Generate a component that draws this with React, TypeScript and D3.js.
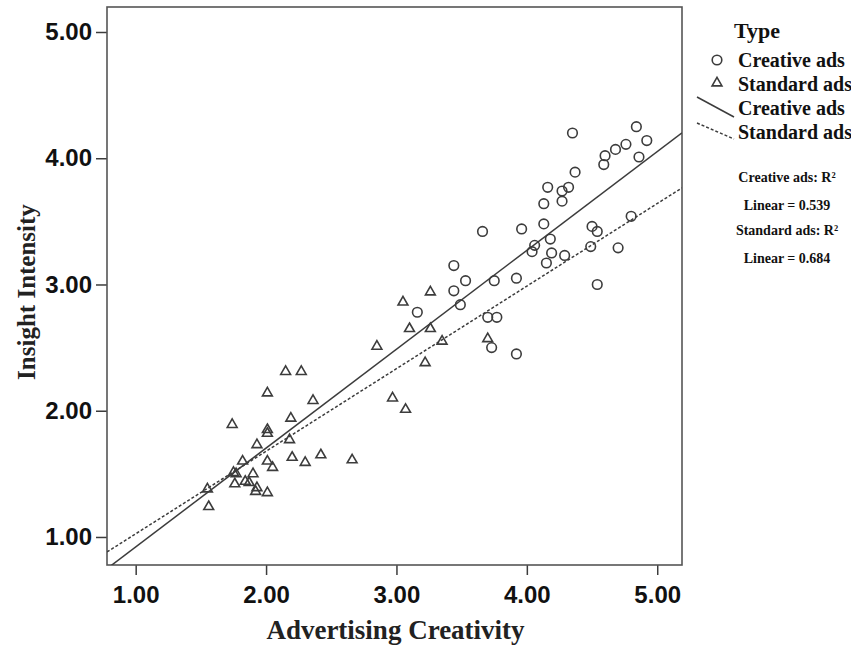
import React, { useEffect, useRef } from 'react';
import * as d3 from 'd3';

// Creative ads (circles): [Advertising Creativity, Insight Intensity]
const creativeAds: [number, number][] = [
  [4.35, 4.20], [4.84, 4.25], [4.92, 4.14], [4.76, 4.11], [4.68, 4.07],
  [4.60, 4.02], [4.59, 3.95], [4.86, 4.01], [4.37, 3.89], [4.16, 3.77],
  [4.32, 3.77], [4.27, 3.74], [4.13, 3.64], [4.27, 3.66], [3.66, 3.42],
  [3.96, 3.44], [4.13, 3.48], [4.80, 3.54], [4.50, 3.46], [4.54, 3.42],
  [4.18, 3.36], [4.06, 3.31], [4.04, 3.26], [4.19, 3.25], [4.29, 3.23],
  [4.15, 3.17], [4.49, 3.30], [4.70, 3.29], [3.75, 3.03], [3.92, 3.05],
  [4.54, 3.00], [3.44, 3.15], [3.53, 3.03], [3.44, 2.95], [3.49, 2.84],
  [3.16, 2.78], [3.70, 2.74], [3.77, 2.74], [3.73, 2.50], [3.92, 2.45],
];

// Standard ads (triangles)
const standardAds: [number, number][] = [
  [3.26, 2.94], [3.05, 2.86], [3.10, 2.65], [3.26, 2.65], [3.35, 2.55],
  [3.70, 2.57], [2.85, 2.51], [3.22, 2.38], [2.27, 2.31], [2.15, 2.31],
  [2.01, 2.14], [2.36, 2.08], [2.97, 2.10], [3.07, 2.01], [1.74, 1.89],
  [2.19, 1.94], [2.01, 1.85], [2.01, 1.82], [2.18, 1.77], [1.93, 1.73],
  [2.20, 1.63], [2.30, 1.59], [2.42, 1.65], [2.66, 1.61], [1.82, 1.60],
  [2.01, 1.60], [2.05, 1.55], [1.75, 1.51], [1.77, 1.50], [1.90, 1.50],
  [1.84, 1.44], [1.87, 1.43], [1.76, 1.42], [1.93, 1.39], [1.92, 1.36],
  [2.01, 1.35], [1.55, 1.38], [1.56, 1.24],
];

// fitted lines: [intercept, slope]
const creativeFit = [0.138, 0.783];
const standardFit = [0.371, 0.654];

const xTicks = [1, 2, 3, 4, 5];
const yTicks = [1, 2, 3, 4, 5];
const legendItems = ['Creative ads', 'Standard ads', 'Creative ads', 'Standard ads'];
const r2Labels = ['Creative ads: R\u00B2', 'Linear = 0.539', 'Standard ads: R\u00B2', 'Linear = 0.684'];

const App = () => {
  const svgRef = useRef<SVGSVGElement>(null);

  useEffect(() => {
    const W = 851;
    const H = 649;
    const margin = { top: 7, right: 169, bottom: 84, left: 107 };
    const width = W - margin.left - margin.right;
    const height = H - margin.top - margin.bottom;
    const ink = '#3c3c3c';
    const serif = '"Liberation Serif", "Times New Roman", serif';
    const sans = '"Liberation Sans", Arial, sans-serif';

    d3.select(svgRef.current).selectAll('*').remove();

    const root = d3.select(svgRef.current)
      .attr('width', W)
      .attr('height', H);

    root.append('rect').attr('width', W).attr('height', H).attr('fill', '#fff');

    const svg = root.append('g')
      .attr('transform', `translate(${margin.left},${margin.top})`);

    const x = d3.scaleLinear().domain([0.78, 5.19]).range([0, width]);
    const y = d3.scaleLinear().domain([0.778, 5.198]).range([height, 0]);

    svg.append('clipPath').attr('id', 'plotClip')
      .append('rect').attr('width', width).attr('height', height);

    // Y axis
    const yAxis = svg.append('g')
      .call(d3.axisLeft(y).tickValues(yTicks).tickFormat(d3.format('.2f')).tickSize(11).tickPadding(4));
    yAxis.select('.domain').remove();
    yAxis.selectAll('line').attr('stroke', ink).attr('stroke-width', 1.5);
    yAxis.selectAll('text')
      .attr('fill', '#111')
      .style('font-family', sans)
      .style('font-weight', 'bold')
      .style('font-size', '24px');

    // X axis
    const xAxis = svg.append('g')
      .attr('transform', `translate(0,${height})`)
      .call(d3.axisBottom(x).tickValues(xTicks).tickFormat(d3.format('.2f')).tickSize(10).tickPadding(11));
    xAxis.select('.domain').remove();
    xAxis.selectAll('line').attr('stroke', ink).attr('stroke-width', 1.5);
    xAxis.selectAll('text')
      .attr('fill', '#111')
      .style('font-family', sans)
      .style('font-weight', 'bold')
      .style('font-size', '24px');

    // frame
    svg.append('rect')
      .attr('width', width)
      .attr('height', height)
      .attr('fill', 'none')
      .attr('stroke', '#555')
      .attr('stroke-width', 1.6);

    // fit lines
    const plot = svg.append('g').attr('clip-path', 'url(#plotClip)');
    const xd = x.domain();
    const fitLine = (fit: number[]) => d3.line<number>()
      .x(d => x(d))
      .y(d => y(fit[0] + fit[1] * d))(xd);

    plot.append('path')
      .attr('d', fitLine(creativeFit))
      .attr('fill', 'none')
      .attr('stroke', ink)
      .attr('stroke-width', 1.5);

    plot.append('path')
      .attr('d', fitLine(standardFit))
      .attr('fill', 'none')
      .attr('stroke', ink)
      .attr('stroke-width', 1.5)
      .attr('stroke-dasharray', '3,2');

    // points
    plot.selectAll('.tri')
      .data(standardAds)
      .enter().append('path')
      .attr('class', 'tri')
      .attr('transform', d => `translate(${x(d[0])},${y(d[1])})`)
      .attr('d', d3.symbol(d3.symbolTriangle, 42)())
      .attr('fill', 'none')
      .attr('stroke', ink)
      .attr('stroke-width', 1.6);

    plot.selectAll('.circ')
      .data(creativeAds)
      .enter().append('circle')
      .attr('class', 'circ')
      .attr('cx', d => x(d[0]))
      .attr('cy', d => y(d[1]))
      .attr('r', 4.8)
      .attr('fill', 'none')
      .attr('stroke', ink)
      .attr('stroke-width', 1.6);

    // axis titles
    svg.append('text')
      .attr('x', width / 2 + 1)
      .attr('y', height + 74)
      .attr('text-anchor', 'middle')
      .style('font-family', serif)
      .style('font-weight', 'bold')
      .style('font-size', '27px')
      .attr('fill', '#222')
      .text('Advertising Creativity');

    svg.append('text')
      .attr('transform', `translate(${-72},${height / 2 + 6}) rotate(-90)`)
      .attr('text-anchor', 'middle')
      .style('font-family', serif)
      .style('font-weight', 'bold')
      .style('font-size', '25px')
      .attr('fill', '#222')
      .text('Insight Intensity');

    // legend
    const lg = root.append('g');
    lg.append('text')
      .attr('x', 757).attr('y', 38)
      .attr('text-anchor', 'middle')
      .style('font-family', serif).style('font-weight', 'bold').style('font-size', '22px')
      .attr('fill', '#111')
      .text('Type');

    const rowY = [61, 85, 109, 133];
    lg.selectAll('.lt')
      .data(legendItems)
      .enter().append('text')
      .attr('class', 'lt')
      .attr('x', 738)
      .attr('y', (d, i) => rowY[i] + 6)
      .style('font-family', serif).style('font-weight', 'bold').style('font-size', '20px')
      .attr('fill', '#111')
      .text(d => d);

    lg.append('circle').attr('cx', 717).attr('cy', rowY[0] - 1).attr('r', 4.8)
      .attr('fill', 'none').attr('stroke', ink).attr('stroke-width', 1.6);
    lg.append('path').attr('transform', `translate(717,${rowY[1] - 2})`)
      .attr('d', d3.symbol(d3.symbolTriangle, 42)())
      .attr('fill', 'none').attr('stroke', ink).attr('stroke-width', 1.6);
    lg.append('line').attr('x1', 697).attr('y1', rowY[2] - 12).attr('x2', 734).attr('y2', rowY[2] + 8)
      .attr('stroke', ink).attr('stroke-width', 1.5);
    lg.append('line').attr('x1', 697).attr('y1', rowY[3] - 10).attr('x2', 734).attr('y2', rowY[3] + 6)
      .attr('stroke', ink).attr('stroke-width', 1.5).attr('stroke-dasharray', '3,2');

    const r2Y = [182, 210, 235, 263];
    lg.selectAll('.r2')
      .data(r2Labels)
      .enter().append('text')
      .attr('class', 'r2')
      .attr('x', 787)
      .attr('y', (d, i) => r2Y[i])
      .attr('text-anchor', 'middle')
      .style('font-family', serif).style('font-weight', 'bold').style('font-size', '14px')
      .attr('fill', '#111')
      .text(d => d);
  }, []);

  return (
    <svg ref={svgRef} style={{ position: 'fixed', left: 0, top: 0, display: 'block' }}></svg>
  );
};

export default App;
